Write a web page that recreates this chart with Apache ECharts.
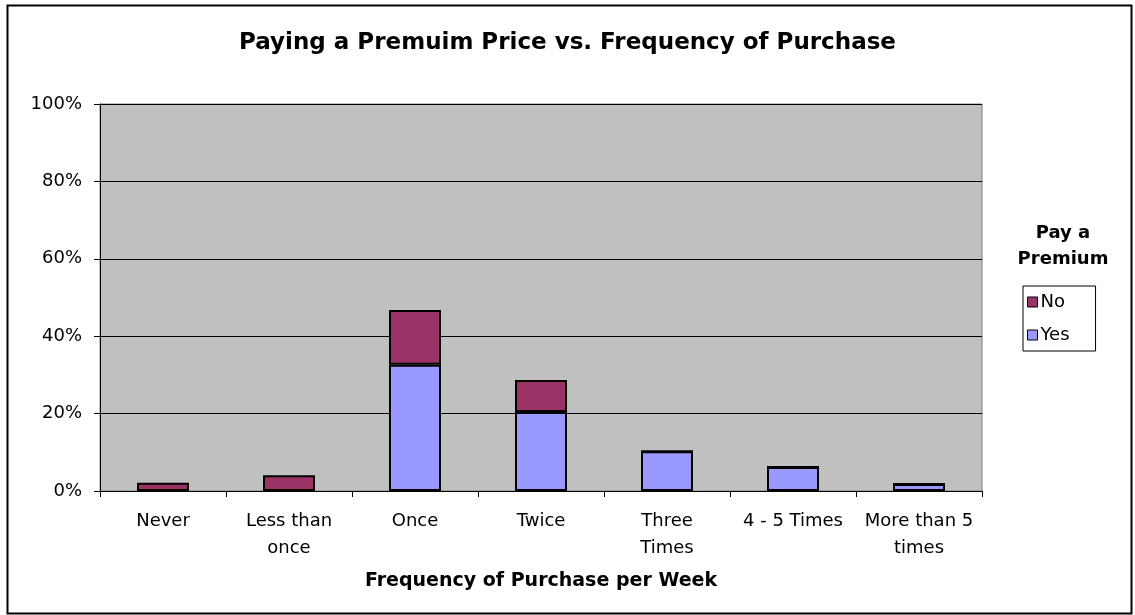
<!DOCTYPE html>
<html>
<head>
<meta charset="utf-8">
<script src="https://cdn.jsdelivr.net/npm/echarts@6/dist/echarts.min.js"></script>
<style>
html,body{margin:0;padding:0;background:#fff;}
#chart{width:1135px;height:615px;}
</style>
</head>
<body>
<div id="chart"></div>
<script>
const categories = ['Never', 'Less than\nonce', 'Once', 'Twice', 'Three\nTimes', '4 - 5 Times', 'More than 5\ntimes'];
const yesValues = [0, 0, 32.6, 20.4, 10.3, 6.2, 1.8];
const noValues = [2.1, 4.1, 14.2, 8.3, 0, 0, 0];
const yTicks = [0, 20, 40, 60, 80, 100];

const font = '"DejaVu Sans", "Liberation Sans", Arial, sans-serif';
const chart = echarts.init(document.getElementById('chart'));
chart.setOption({
  animation: false,
  backgroundColor: '#fff',
  title: {
    text: 'Paying a Premuim Price vs. Frequency of Purchase',
    left: 'center', top: 27,
    textStyle: { fontFamily: font, fontSize: 23, fontWeight: 'bold', color: '#000' }
  },
  graphic: [
    { type: 'rect', left: 5, top: 3, shape: { width: 1124, height: 608 }, style: { fill: 'none', stroke: '#000', lineWidth: 2 }, silent: true },
    { type: 'text', x: 1063, y: 220, style: { text: 'Pay a\nPremium', font: 'bold 18px ' + font, fill: '#000', align: 'center', textAlign: 'center', lineHeight: 26 }, silent: true }
  ],
  legend: {
    data: ['No', 'Yes'],
    orient: 'vertical',
    left: 1023, top: 286,
    itemWidth: 10, itemHeight: 10, itemGap: 15,
    padding: [7, 26, 7, 4],
    borderColor: '#000', borderWidth: 1,
    icon: 'rect',
    itemStyle: { borderColor: '#000', borderWidth: 1 },
    textStyle: { fontFamily: font, fontSize: 18, color: '#000', padding: [0, 0, 0, -2] }
  },
  grid: { left: 100, right: 153, top: 104, bottom: 124, backgroundColor: '#C0C0C0', show: true, borderColor: '#808080', borderWidth: 1 },
  xAxis: {
    type: 'category',
    data: categories,
    name: 'Frequency of Purchase per Week',
    nameLocation: 'middle', nameGap: 81,
    nameTextStyle: { fontFamily: font, fontSize: 19, fontWeight: 'bold', color: '#000' },
    axisLine: { lineStyle: { color: '#000', width: 1 } },
    axisTick: { show: true, length: 6, lineStyle: { color: '#000' } },
    axisLabel: { fontFamily: font, fontSize: 18, color: '#000', margin: 17, lineHeight: 27, interval: 0 }
  },
  yAxis: {
    type: 'value', min: 0, max: 100, interval: 20,
    axisLine: { show: true, lineStyle: { color: '#000' } },
    axisTick: { show: true, length: 6, lineStyle: { color: '#000' } },
    splitLine: { show: true, lineStyle: { color: '#000', width: 1 } },
    axisLabel: { fontFamily: font, fontSize: 18, color: '#000', margin: 18,
      formatter: v => yTicks.includes(v) ? v + '%' : '' }
  },
  series: [
    { name: 'Yes', type: 'bar', stack: 't', data: yesValues, barWidth: 52,
      itemStyle: { color: '#9999FF', borderColor: '#000', borderWidth: 2 } },
    { name: 'No', type: 'bar', stack: 't', data: noValues, barWidth: 52,
      itemStyle: { color: '#993366', borderColor: '#000', borderWidth: 2 } }
  ]
});
</script>
</body>
</html>
